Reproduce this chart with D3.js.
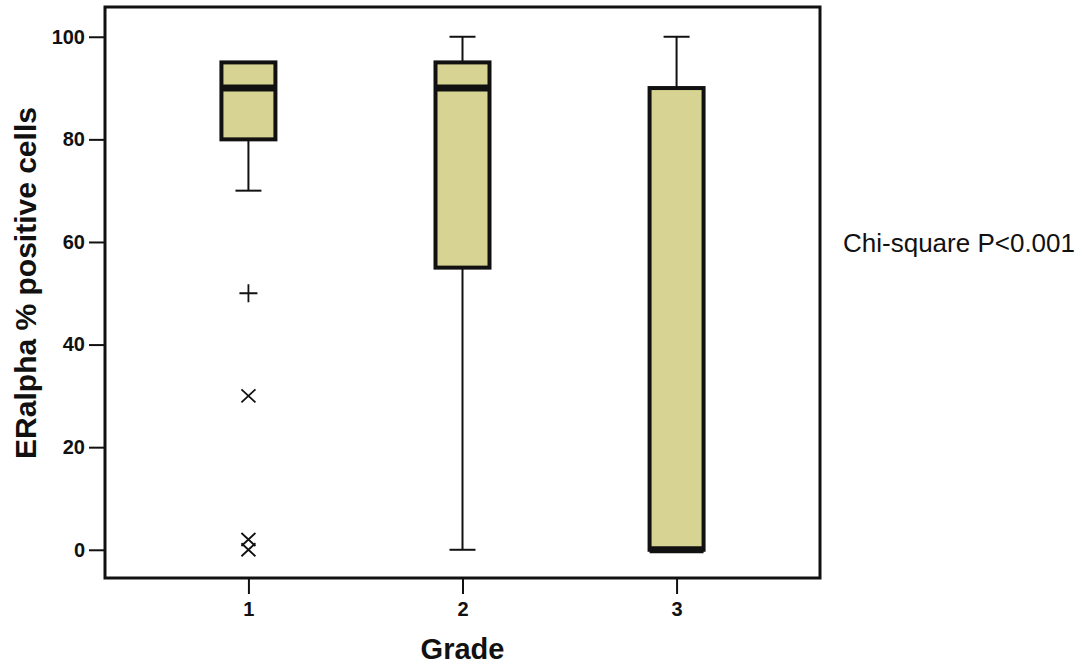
<!DOCTYPE html>
<html>
<head>
	<meta charset="utf-8"/>
	<script src="https://cdn.jsdelivr.net/npm/d3@7"></script>
	<style type="text/css">
		body { margin: 0; background: #fff; }
		svg { font-family: "Liberation Sans", Arial, sans-serif; }
	</style>
</head>
<body>
	<svg id="boxplot" width="1088" height="666"></svg>
	<script type="text/javascript">

		// box statistics per grade
		var grades = ["1", "2", "3"];
		var whiskerLow = [70, 0, 0];
		var q1 = [80, 55, 0];
		var median = [90, 90, 0];
		var q3 = [95, 95, 90];
		var whiskerHigh = [95, 100, 100];

		// outliers (+) and extremes (x)
		var outlierGrade = ["1", "1", "1", "1"];
		var outlierValue = [50, 30, 2, 0];
		var outlierType = ["plus", "cross", "cross", "cross"];

		var yTicks = [0, 20, 40, 60, 80, 100];

		var svg = d3.select("#boxplot");
		var plotLeft = 105, plotTop = 7, plotW = 715, plotH = 571;

		var x = d3.scalePoint()
			.domain(grades)
			.range([plotLeft, plotLeft + plotW])
			.padding(0.67);

		var y = d3.scaleLinear()
			.domain([-5.5, 105.8])
			.range([plotTop + plotH, plotTop]);

		var boxW = 54, capW = 26;

		// axes
		var yAxis = svg.append("g")
			.attr("transform", "translate(" + plotLeft + ",0)")
			.call(d3.axisLeft(y).tickValues(yTicks).tickSize(16).tickPadding(4));
		yAxis.select(".domain").remove();
		yAxis.selectAll("line").attr("stroke", "#111").attr("stroke-width", 2);
		yAxis.selectAll("text")
			.attr("fill", "#111")
			.style("font-size", "20px")
			.style("font-weight", "bold");

		var xAxis = svg.append("g")
			.attr("transform", "translate(0," + (plotTop + plotH) + ")")
			.call(d3.axisBottom(x).tickSize(16).tickPadding(8));
		xAxis.select(".domain").remove();
		xAxis.selectAll("line").attr("stroke", "#111").attr("stroke-width", 2);
		xAxis.selectAll("text")
			.attr("fill", "#111")
			.style("font-size", "20px")
			.style("font-weight", "bold");

		// boxes
		var g = svg.append("g");
		grades.forEach(function(gr, i) {
			var cx = x(gr);
			if (whiskerHigh[i] > q3[i]) {
				g.append("line").attr("x1", cx).attr("x2", cx)
					.attr("y1", y(q3[i])).attr("y2", y(whiskerHigh[i]))
					.attr("stroke", "#111").attr("stroke-width", 2);
				g.append("line").attr("x1", cx - capW / 2).attr("x2", cx + capW / 2)
					.attr("y1", y(whiskerHigh[i])).attr("y2", y(whiskerHigh[i]))
					.attr("stroke", "#111").attr("stroke-width", 2);
			}
			if (whiskerLow[i] < q1[i]) {
				g.append("line").attr("x1", cx).attr("x2", cx)
					.attr("y1", y(q1[i])).attr("y2", y(whiskerLow[i]))
					.attr("stroke", "#111").attr("stroke-width", 2);
				g.append("line").attr("x1", cx - capW / 2).attr("x2", cx + capW / 2)
					.attr("y1", y(whiskerLow[i])).attr("y2", y(whiskerLow[i]))
					.attr("stroke", "#111").attr("stroke-width", 2);
			}
			g.append("rect")
				.attr("x", cx - boxW / 2)
				.attr("y", y(q3[i]))
				.attr("width", boxW)
				.attr("height", y(q1[i]) - y(q3[i]))
				.attr("fill", "#d7d493")
				.attr("stroke", "#111")
				.attr("stroke-width", 4);
			g.append("line")
				.attr("x1", cx - boxW / 2).attr("x2", cx + boxW / 2)
				.attr("y1", y(median[i])).attr("y2", y(median[i]))
				.attr("stroke", "#111").attr("stroke-width", 7);
		});

		// outliers
		outlierValue.forEach(function(v, i) {
			var cx = x(outlierGrade[i]), cy = y(v);
			var p = outlierType[i] == "plus"
				? "M" + (cx - 9) + "," + cy + "H" + (cx + 9) + "M" + cx + "," + (cy - 9) + "V" + (cy + 9)
				: "M" + (cx - 7) + "," + (cy - 6.5) + "L" + (cx + 7) + "," + (cy + 6.5) +
				  "M" + (cx + 7) + "," + (cy - 6.5) + "L" + (cx - 7) + "," + (cy + 6.5);
			g.append("path").attr("d", p)
				.attr("stroke", "#111").attr("stroke-width", 1.8).attr("fill", "none");
		});

		// frame
		svg.append("rect")
			.attr("x", plotLeft).attr("y", plotTop)
			.attr("width", plotW).attr("height", plotH)
			.attr("fill", "none")
			.attr("stroke", "#111")
			.attr("stroke-width", 3);

		// titles
		svg.append("text")
			.attr("x", x("2"))
			.attr("y", 659)
			.attr("text-anchor", "middle")
			.style("font-size", "29px")
			.style("font-weight", "bold")
			.attr("fill", "#111")
			.text("Grade");

		svg.append("text")
			.attr("transform", "translate(36,283) rotate(-90)")
			.attr("text-anchor", "middle")
			.style("font-size", "30px")
			.style("font-weight", "bold")
			.attr("fill", "#111")
			.text("ERalpha % positive cells");

		svg.append("text")
			.attr("x", 843)
			.attr("y", 252)
			.style("font-size", "26px")
			.attr("fill", "#111")
			.text("Chi-square P<0.001");

	</script>
</body>
</html>
